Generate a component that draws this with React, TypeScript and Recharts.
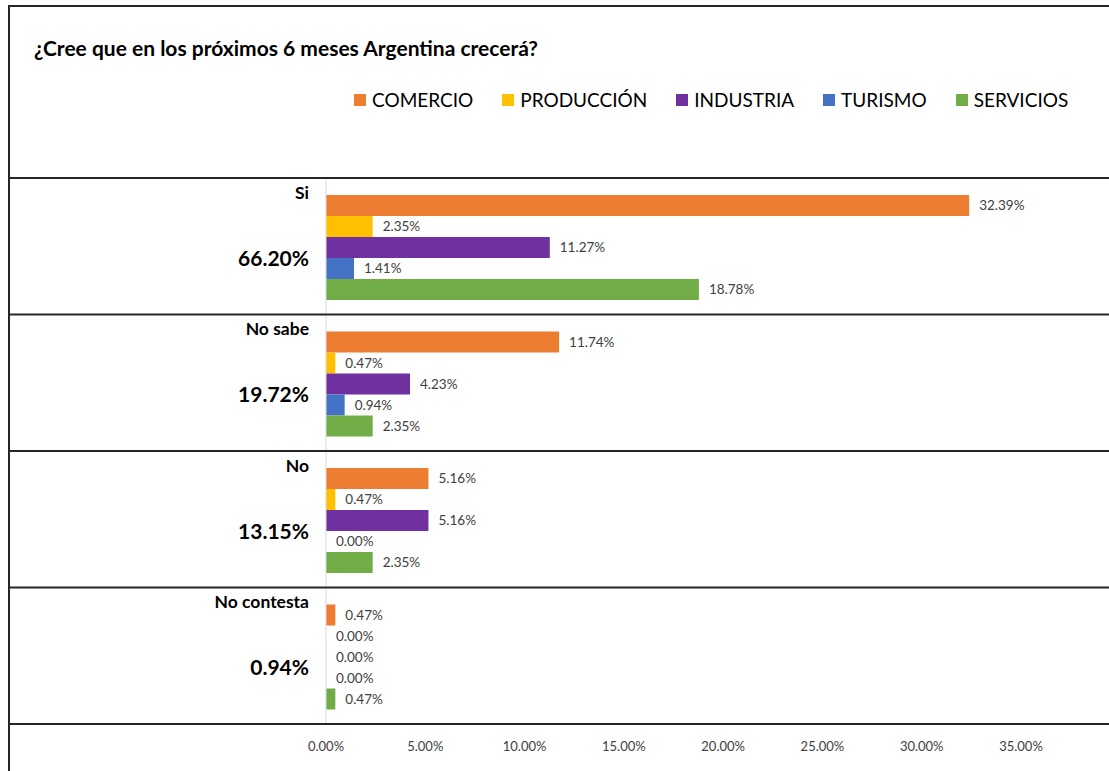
import { BarChart, Bar, XAxis, YAxis, LabelList } from 'recharts';

const categories = ['Si', 'No sabe', 'No', 'No contesta'];
const totals = [66.2, 19.72, 13.15, 0.94];
const comercio = [32.39, 11.74, 5.16, 0.47];
const produccion = [2.35, 0.47, 0.47, 0];
const industria = [11.27, 4.23, 5.16, 0];
const turismo = [1.41, 0.94, 0, 0];
const servicios = [18.78, 2.35, 2.35, 0.47];
const xTicks = [0, 5, 10, 15, 20, 25, 30, 35];

const series = [
  { key: 'comercio', name: 'COMERCIO', color: '#ED7D31' },
  { key: 'produccion', name: 'PRODUCCIÓN', color: '#FFC000' },
  { key: 'industria', name: 'INDUSTRIA', color: '#7030A0' },
  { key: 'turismo', name: 'TURISMO', color: '#4472C4' },
  { key: 'servicios', name: 'SERVICIOS', color: '#70AD47' },
];

const data = categories.map((c, i) => ({
  name: c,
  total: totals[i],
  comercio: comercio[i],
  produccion: produccion[i],
  industria: industria[i],
  turismo: turismo[i],
  servicios: servicios[i],
}));

const W = 1109;
const H = 771;
const TOP = 178;
const AXIS_H = 47;
const BAND = (H - TOP - AXIS_H) / categories.length;
const FONT = 'Lato, "Open Sans", sans-serif';
const pct = (v: number) => `${v.toFixed(2)}%`;

// category name at the top of its band, group total in the middle, and the dark row separators
function CategoryTick(props: any) {
  const { x, y, payload, index } = props;
  const total = totals[index];
  return (
    <g>
      {index === 0 && <line x1={8} x2={W} y1={y - BAND / 2} y2={y - BAND / 2} stroke="#262626" strokeWidth={2} />}
      <line x1={8} x2={W} y1={y + BAND / 2} y2={y + BAND / 2} stroke="#262626" strokeWidth={2} />
      <text x={x - 9} y={y - BAND / 2 + 14} textAnchor="end" dominantBaseline="central"
        fontFamily={FONT} fontWeight={700} fontSize={17.5} fill="#000">{payload.value}</text>
      <text x={x - 9} y={y + 11} textAnchor="end" dominantBaseline="central"
        fontFamily={FONT} fontWeight={700} fontSize={21} fill="#000">{pct(total)}</text>
    </g>
  );
}

export default function App() {
  return (
    <div style={{ position: 'absolute', left: 0, top: 0, width: W, height: H, background: '#fff' }}>
      <div style={{ position: 'absolute', left: 8, top: 5, width: W - 8, height: H - 5,
        borderLeft: '2px solid #262626', borderTop: '2px solid #262626', boxSizing: 'border-box' }} />
      <div style={{ position: 'absolute', left: 34, top: 35, fontFamily: FONT, fontWeight: 700,
        fontSize: 21, color: '#000', whiteSpace: 'nowrap' }}>
        ¿Cree que en los próximos 6 meses Argentina crecerá?
      </div>
      <div style={{ position: 'absolute', left: 354, top: 88, display: 'flex', gap: 29,
        fontFamily: FONT, fontSize: 19, color: '#000', lineHeight: '23px' }}>
        {series.map(s => (
          <div key={s.key} style={{ display: 'flex', alignItems: 'center' }}>
            <span style={{ width: 12, height: 12, background: s.color, marginRight: 6, display: 'inline-block' }} />
            {s.name}
          </div>
        ))}
      </div>
      <BarChart width={W} height={H} data={data} layout="vertical"
        margin={{ top: TOP, right: 88, bottom: 0, left: 0 }}
        barGap={0} barCategoryGap={17} style={{ position: 'absolute', left: 0, top: 0 }}>
        <XAxis type="number" domain={[0, 35]} ticks={xTicks} tickFormatter={pct}
          axisLine={false} tickLine={false} height={AXIS_H} tickMargin={12}
          tick={{ fill: '#404040', fontSize: 13, fontFamily: FONT }} />
        <YAxis type="category" dataKey="name" width={326} tickLine={false}
          axisLine={{ stroke: '#d9d9d9' }} tick={<CategoryTick />} interval={0} />
        {series.map(s => (
          <Bar key={s.key} dataKey={s.key} name={s.name} fill={s.color} minPointSize={0.01}
            isAnimationActive={false}>
            <LabelList dataKey={s.key} position="right" offset={10} formatter={(v: any) => pct(Number(v))}
              style={{ fill: '#404040', fontSize: 13.5, fontFamily: FONT }} />
          </Bar>
        ))}
      </BarChart>
    </div>
  );
}
